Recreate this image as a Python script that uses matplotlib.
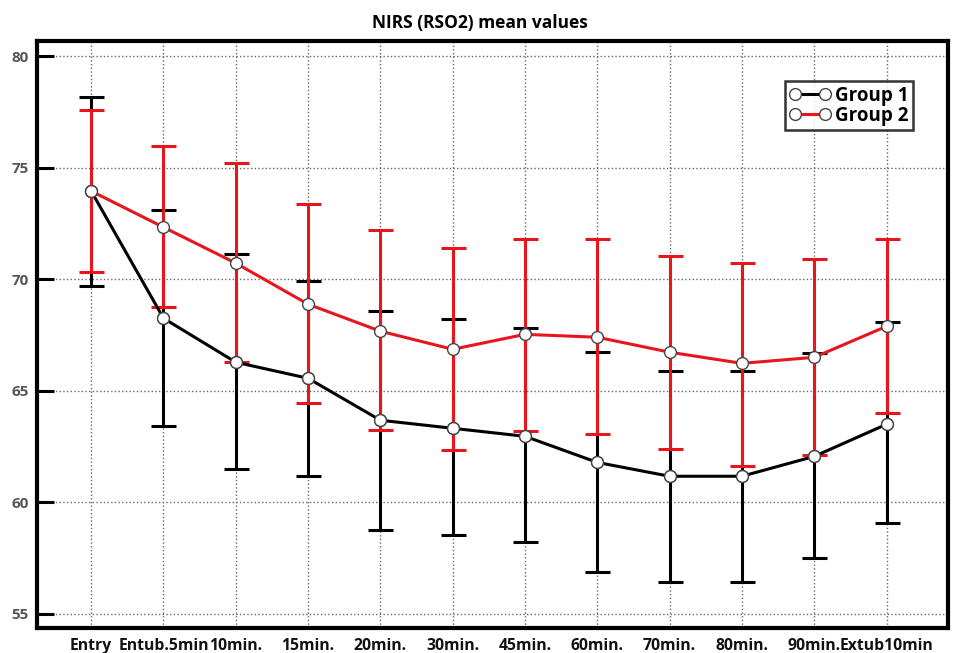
import matplotlib.pyplot as plt
import numpy as np

plt.rcParams['font.family'] = ['Open Sans', 'DejaVu Sans']

labels = ['Entry', 'Entub.5min', '10min.', '15min.', '20min.', '30min.',
          '45min.', '60min.', '70min.', '80min.', '90min.', 'Extub10min']

# group 1 (black)
g1_mean = [73.95, 68.25, 66.28, 65.56, 63.68, 63.32, 62.96, 61.79, 61.17, 61.17, 62.06, 63.50]
g1_upper = [78.16, 73.09, 71.12, 69.91, 68.57, 68.21, 67.80, 66.73, 65.87, 65.87, 66.68, 68.07]
g1_lower = [69.69, 63.41, 61.48, 61.17, 58.74, 58.52, 58.21, 56.86, 56.41, 56.41, 57.49, 59.06]

# group 2 (red)
g2_mean = [73.95, 72.33, 70.72, 68.88, 67.67, 66.86, 67.53, 67.40, 66.73, 66.23, 66.50, 67.89]
g2_upper = [77.58, 75.96, 75.20, 73.36, 72.20, 71.39, 71.79, 71.79, 71.03, 70.72, 70.90, 71.79]
g2_lower = [70.31, 68.74, 66.28, 64.44, 63.23, 62.33, 63.18, 63.05, 62.38, 61.61, 62.11, 63.99]

red = '#e8161c'
x = np.arange(len(labels))

fig = plt.figure(figsize=(9.6, 6.53), dpi=100)
ax = fig.add_axes([0.0385, 0.0383, 0.949, 0.8987])

for mean, lo, up, color, z in [(g1_mean, g1_lower, g1_upper, 'black', 2),
                               (g2_mean, g2_lower, g2_upper, red, 3)]:
    mean = np.array(mean)
    yerr = [mean - np.array(lo), np.array(up) - mean]
    ax.errorbar(x, mean, yerr=yerr, fmt='none', ecolor=color, elinewidth=2.2,
                capsize=9, capthick=2.2, zorder=z)

ax.plot(x, g1_mean, '-o', color='black', lw=2.2, ms=8.5, mfc='white',
        mec='#444444', mew=1.0, zorder=5, label='Group 1')
ax.plot(x, g2_mean, '-o', color=red, lw=2.2, ms=8.5, mfc='white',
        mec='#444444', mew=1.0, zorder=4, label='Group 2')
# redraw group 1 markers over red line
ax.plot(x, g1_mean, 'o', ms=8.5, mfc='white', mec='#444444', mew=1.0, zorder=6)

ax.set_xlim(-0.75, 11.85)
ax.set_ylim(54.37, 80.67)
ax.set_yticks([55, 60, 65, 70, 75, 80])
ax.set_xticks(x)
ax.set_xticklabels(labels, fontsize=11.3, fontweight='bold', color='#111111')
ax.tick_params(axis='x', length=0, pad=7)
ax.tick_params(axis='y', direction='in', length=12, width=2.2, pad=6,
               labelsize=11, labelcolor='#555555')
for lab in ax.get_yticklabels():
    lab.set_fontweight('bold')

ax.grid(True, color='#666666', linestyle=':', linewidth=1.0)
ax.set_axisbelow(True)
for s in ax.spines.values():
    s.set_linewidth(3)

leg = ax.legend(loc='upper right', bbox_to_anchor=(0.962, 0.932), numpoints=2,
                prop={'weight': 'bold', 'size': 13.5}, frameon=True, fancybox=False,
                handlelength=2.2, handletextpad=0.25, borderpad=0.25,
                labelspacing=0.0, edgecolor='black', borderaxespad=0)
leg.get_frame().set_linewidth(1.8)

fig.suptitle('NIRS (RSO2) mean values', fontsize=12.5, fontweight='bold', y=0.978)

fig.savefig('out.png', dpi=100)
